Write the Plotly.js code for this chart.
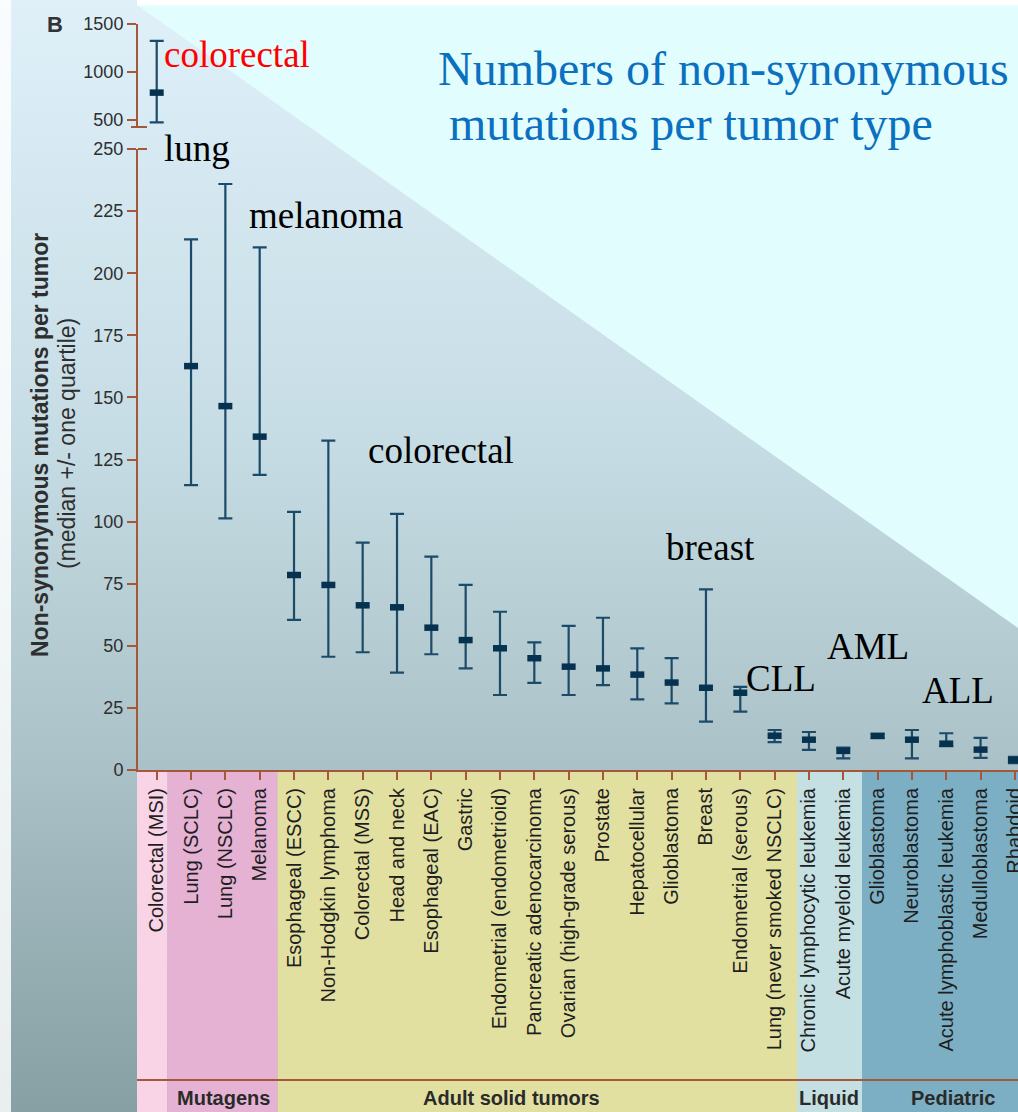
<!DOCTYPE html>
<html>
<head>
<meta charset="utf-8">
<script src="https://cdn.plot.ly/plotly-3.0.1.min.js"></script>
<style>
  html, body { margin: 0; padding: 0; background: #ffffff; }
  #chart {
    width: 1018px; height: 1112px; overflow: hidden;
    background: linear-gradient(to bottom, #dff0f9 0%, #c6dce4 40%, #a9c1c7 69%, #87a0a3 100%);
  }
</style>
</head>
<body>
<div id="chart"></div>
<script>
// ---------------- data ----------------
const categories = [
  "Colorectal (MSI)", "Lung (SCLC)", "Lung (NSCLC)", "Melanoma",
  "Esophageal (ESCC)", "Non-Hodgkin lymphoma", "Colorectal (MSS)", "Head and neck",
  "Esophageal (EAC)", "Gastric", "Endometrial (endometrioid)", "Pancreatic adenocarcinoma",
  "Ovarian (high-grade serous)", "Prostate", "Hepatocellular", "Glioblastoma",
  "Breast", "Endometrial (serous)", "Lung (never smoked NSCLC)",
  "Chronic lymphocytic leukemia", "Acute myeloid leukemia",
  "Glioblastoma", "Neuroblastoma", "Acute lymphoblastic leukemia", "Medulloblastoma", "Rhabdoid"
];
const medians = [785, 162.6, 146.5, 134.2, 78.5, 74.5, 66.3, 65.5, 57.3, 52.3, 49.0, 45.0,
                 41.6, 40.9, 38.4, 35.2, 33.1, 31.1, 13.8, 12.2, 7.7, 13.7, 12.2, 10.6, 8.2, 4.0];
const upperQ = [1325, 213.6, 235.9, 210.4, 103.9, 132.6, 91.5, 103.1, 85.9, 74.5, 63.7, 51.4,
                58.0, 61.3, 49.0, 45.0, 72.7, 33.5, 16.1, 15.3, 9.0, 14.6, 16.1, 14.8, 12.9, 5.3];
const lowerQ = [475, 114.7, 101.3, 118.8, 60.4, 45.6, 47.4, 39.2, 46.6, 40.9, 30.2, 35.1,
                30.2, 34.2, 28.4, 26.8, 19.5, 23.5, 11.2, 8.1, 4.7, 12.9, 4.7, 9.6, 4.9, 2.8];
const lowerTicks = [0, 25, 50, 75, 100, 125, 150, 175, 200, 225, 250];
const upperTicks = [500, 1000, 1500];
const groupNames = ["", "Mutagens", "Adult solid tumors", "Liquid", "Pediatric"];
const groupColors = ["#f9d3e6", "#e5b2d4", "#e2e0a1", "#c5e0e2", "#7cafc3"];
const labelTexts = ["colorectal", "lung", "melanoma", "colorectal", "breast", "CLL", "AML", "ALL"];

// ---------------- geometry helpers (layout only) ----------------
const W = 1018, H = 1112, ML = 138, MR = 0, MT = 24, MB = 342;
const PW = W - ML - MR, PH = H - MT - MB;
const X0 = ML, Y0 = H - MB; // pixel of plot-area bottom-left
const px = p => (p - X0) / PW;
const py = p => (Y0 - p) / PH;

const brown = "#a4583a";
const whiskerColor = "#1c4b69";
const medianColor = "#07324f";
const sans = "Liberation Sans, Arial, Helvetica, sans-serif";
const serif = "Liberation Serif, Times New Roman, serif";

const idx = categories.map((_, i) => i);

function errTrace(ids, yaxis) {
  return {
    type: "scatter", mode: "markers",
    x: ids,
    y: ids.map(i => medians[i]),
    yaxis: yaxis, xaxis: "x",
    error_y: {
      type: "data", symmetric: false,
      array: ids.map(i => upperQ[i] - medians[i]),
      arrayminus: ids.map(i => medians[i] - lowerQ[i]),
      color: whiskerColor, thickness: 2.2, width: 7
    },
    marker: { symbol: "line-ew", size: 10, color: medianColor,
              line: { width: 6.5, color: medianColor } },
    hoverinfo: "x+y", showlegend: false, cliponaxis: false
  };
}

const traces = [
  errTrace(idx.slice(0, 1), "y2"),
  errTrace(idx.slice(1), "y")
];

// ---------------- shapes ----------------
const shapes = [];
// cyan triangle
shapes.push({
  type: "path", xref: "paper", yref: "paper", layer: "below",
  path: `M ${px(137)},${py(5)} L ${px(1018)},${py(5)} L ${px(1018)},${py(628)} Z`,
  fillcolor: "#e2fdfd", line: { width: 0 }
});
// top white strip
shapes.push({ type: "rect", xref: "paper", yref: "paper", layer: "below",
  x0: px(137), x1: px(1018), y0: py(0), y1: py(5.5),
  fillcolor: "#ffffff", line: { width: 0 } });
// left light strip
shapes.push({ type: "rect", xref: "paper", yref: "paper", layer: "below",
  x0: px(0), x1: px(11), y0: py(0), y1: py(1112),
  fillcolor: "rgba(255,255,255,0.82)", line: { width: 0 } });
// group bands (under the x axis)
const bandEdges = [137, 167.5, 277.5, 797, 862, 1018];
for (let g = 0; g < groupColors.length; g++) {
  shapes.push({ type: "rect", xref: "paper", yref: "paper", layer: "below",
    x0: px(bandEdges[g]), x1: px(bandEdges[g + 1]), y0: py(770), y1: py(1112),
    fillcolor: groupColors[g], line: { width: 0 } });
}
// bottom separator line
shapes.push({ type: "line", xref: "paper", yref: "paper",
  x0: px(137), x1: px(1018), y0: py(1080), y1: py(1080),
  line: { color: brown, width: 2 } });
// axis break marks
shapes.push({ type: "line", xref: "paper", yref: "paper",
  x0: px(131), x1: px(147), y0: py(127), y1: py(127), line: { color: brown, width: 2 } });
shapes.push({ type: "line", xref: "paper", yref: "paper",
  x0: px(138), x1: px(147), y0: py(149), y1: py(149), line: { color: brown, width: 2 } });

// ---------------- annotations ----------------
const annotations = [];
function baseText(text, left, baseline, size, color, family, bold) {
  annotations.push({
    xref: "paper", yref: "paper", showarrow: false,
    x: px(left - 1), y: py(baseline + 0.216 * size + 1),
    xanchor: "left", yanchor: "bottom",
    text: bold ? "<b>" + text + "</b>" : text,
    font: { size: size, color: color, family: family }
  });
}
function centerText(text, cx, cy, size, color, family, angle) {
  annotations.push({
    xref: "paper", yref: "paper", showarrow: false,
    x: px(cx), y: py(cy), xanchor: "center", yanchor: "middle",
    textangle: angle || 0, text: text,
    font: { size: size, color: color, family: family }
  });
}
baseText("B", 46, 33, 22, "#333333", sans, true);
const labelPos = [[163, 68], [163, 162], [248, 229], [367, 464], [665, 561], [745, 692], [826, 660], [921, 704]];
const labelColors = ["#ff0000", "#000", "#000", "#000", "#000", "#000", "#000", "#000"];
labelTexts.forEach((t, i) => baseText(t, labelPos[i][0], labelPos[i][1], 37, labelColors[i], serif, false));
baseText("Numbers of non-synonymous", 437, 86, 48, "#0b70c0", serif, false);
baseText("mutations per tumor type", 448, 141, 48, "#0b70c0", serif, false);
centerText("<b>Non-synonymous mutations per tumor</b>", 40, 445, 23, "#2e2e2e", sans, -90);
centerText("(median +/- one quartile)", 67, 444, 23, "#2e2e2e", sans, -90);
const groupCenters = [0, 223, 511, 829, 953];
for (let g = 1; g < groupNames.length; g++) {
  centerText("<b>" + groupNames[g] + "</b>", groupCenters[g], 1098, 20, "#2a2a2a", sans, 0);
}

// ---------------- layout ----------------
const axisCommon = {
  showline: true, linecolor: brown, linewidth: 2,
  ticks: "outside", tickcolor: brown, tickwidth: 2, ticklen: 9,
  showgrid: false, zeroline: false, automargin: false, fixedrange: true,
  tickfont: { family: sans, size: 18, color: "#2e2e2e" }
};
const layout = {
  width: W, height: H,
  margin: { l: ML, r: MR, t: MT, b: MB, pad: 0 },
  paper_bgcolor: "rgba(0,0,0,0)", plot_bgcolor: "rgba(0,0,0,0)",
  showlegend: false,
  xaxis: Object.assign({}, axisCommon, {
    range: [-0.545, 25.09], tickmode: "array",
    tickvals: idx, ticktext: categories, tickangle: -90, ticklen: 8,
    ticklabeloverflow: "allow",
    tickfont: { family: sans, size: 20, color: "#1e1e1e" },
    anchor: "y"
  }),
  yaxis: Object.assign({}, axisCommon, {
    domain: [0, 621 / PH], range: [0, 250],
    tickmode: "array", tickvals: lowerTicks, anchor: "x"
  }),
  yaxis2: Object.assign({}, axisCommon, {
    domain: [(770 - 127) / PH, 1], range: [427, 1500],
    tickmode: "array", tickvals: upperTicks, anchor: "x"
  }),
  shapes: shapes,
  annotations: annotations
};

Plotly.newPlot("chart", traces, layout, { displayModeBar: false, staticPlot: true });
</script>
</body>
</html>
